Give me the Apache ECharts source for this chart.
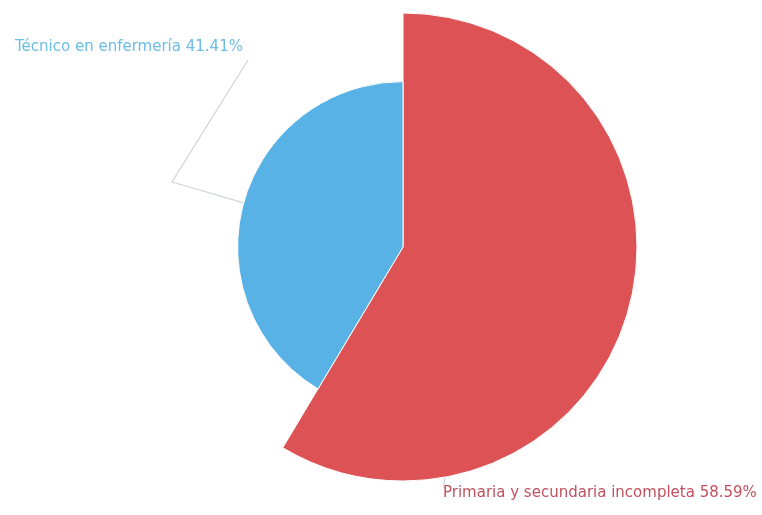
<!DOCTYPE html>
<html>
<head>
<meta charset="utf-8">
<script src="https://cdn.jsdelivr.net/npm/echarts@6/dist/echarts.min.js"></script>
<style>
  html, body { margin: 0; padding: 0; background: #ffffff; }
  #chart { width: 762px; height: 515px; }
</style>
</head>
<body>
<div id="chart"></div>
<script>
// Nivel educativo del personal
const categories = ['Primaria y secundaria incompleta', 'Técnico en enfermería'];
const values = [58.59, 41.41];
const colors = ['#dd5355', '#58b2e6'];
const labelColors = ['#c2515f', '#6cbde6'];

const chart = echarts.init(document.getElementById('chart'), null, { renderer: 'canvas' });

chart.setOption({
  backgroundColor: '#ffffff',
  animation: false,
  series: [{
    type: 'pie',
    roseType: 'radius',
    center: [403, 247],
    radius: [0, 234],
    startAngle: 90,
    clockwise: true,
    itemStyle: { borderColor: '#ffffff', borderWidth: 1 },
    label: {
      formatter: '{b} {c}%',
      fontFamily: 'DejaVu Sans',
      fontSize: 15,
      overflow: 'none'
    },
    labelLine: { length: 20, length2: 60, lineStyle: { color: '#d0d4d8', width: 1.2 } },
    // Labels placed in the free corners: one top-left, one along the bottom
    labelLayout: function (params) {
      if (params.dataIndex === 1) {
        const start = params.labelLinePoints ? params.labelLinePoints[0] : [243, 203];
        return {
          x: 15, y: 47, align: 'left', verticalAlign: 'middle',
          labelLinePoints: [start, [172, 182], [248, 60]]
        };
      }
      return {
        x: 443, y: 493, align: 'left', verticalAlign: 'middle',
        labelLinePoints: [[445, 477], [444, 483], [444, 488]]
      };
    },
    data: categories.map((name, i) => ({
      name,
      value: values[i],
      itemStyle: { color: colors[i] },
      label: { color: labelColors[i] }
    }))
  }]
});
</script>
</body>
</html>
